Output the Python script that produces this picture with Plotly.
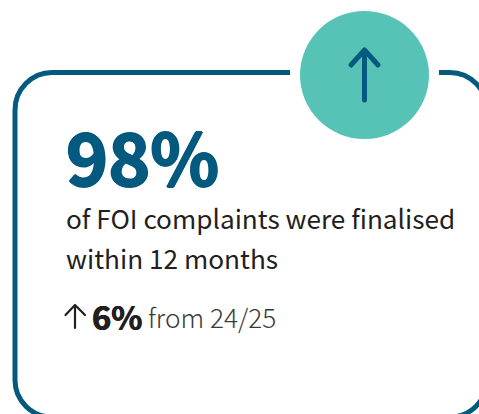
import plotly.graph_objects as go

headline = ["98%"]
body_lines = ["of FOI complaints were finalised", "within 12 months"]
change = ["6%"]
change_note = ["from 24/25"]

NAVY = "#04597f"
TEAL = "#57c3b6"
INK = "#231f20"
FONT = "Noto Sans CJK SC"

fig = go.Figure()
fig.add_trace(go.Scatter(x=[0], y=[0], mode="markers", marker=dict(opacity=0), showlegend=False, hoverinfo="skip"))

border_left = ("M 290 72.5 L 52 72.5 C 31.6 72.5 15 89.6 15 110 L 15 380 "
               "C 15 400.4 31.6 417 52 417")
border_right = ("M 439 72.5 L 450 72.5 C 470.4 72.5 487 89.6 487 110 L 487 380 "
                "C 487 400.4 470.4 417 450 417")
shapes = [
    dict(type="path", path=border_left, line=dict(color=NAVY, width=5)),
    dict(type="path", path=border_right, line=dict(color=NAVY, width=5)),
    dict(type="circle", x0=300, x1=429, y0=11, y1=139, fillcolor=TEAL, line=dict(width=0)),
    dict(type="path", path="M 364.5 100 L 364.5 50 M 351 65 L 364.5 50 L 378 65",
         line=dict(color=NAVY, width=5)),
    dict(type="path", path="M 75 328 L 75 305 M 65.5 315 L 75 305 L 85 315",
         line=dict(color=INK, width=2.2)),
]

heavy = "1px 0 0 %s, -1px 0 0 %s, 0 1px 0 %s, 0 -1px 0 %s" % (NAVY, NAVY, NAVY, NAVY)
heavy_ink = "0.4px 0 0 %s, -0.4px 0 0 %s" % (INK, INK)
annotations = [
    dict(x=66, y=154.5, text="<b>%s</b>" % headline[0], font=dict(size=71.5, color=NAVY, family=FONT, shadow=heavy)),
    dict(x=66, y=217.5, text=body_lines[0], font=dict(size=26.2, color=INK, family=FONT)),
    dict(x=66, y=258, text=body_lines[1], font=dict(size=26.2, color=INK, family=FONT)),
    dict(x=92, y=315, text="<b>%s</b>" % change[0], font=dict(size=32.5, color=INK, family=FONT, shadow=heavy_ink)),
    dict(x=148, y=317, text=change_note[0], font=dict(size=26.2, color="#3a3a3a", family=FONT, weight=300)),
]
for a in annotations:
    a.update(xref="x", yref="y", xanchor="left", yanchor="middle", showarrow=False, borderpad=0, borderwidth=0)

fig.update_layout(
    width=479, height=414, margin=dict(l=0, r=0, t=0, b=0),
    paper_bgcolor="white", plot_bgcolor="white", showlegend=False,
    xaxis=dict(range=[0, 479], visible=False, fixedrange=True),
    yaxis=dict(range=[414, 0], visible=False, fixedrange=True),
    shapes=shapes, annotations=annotations,
)
fig.write_html("out.html", config={"displayModeBar": False}, include_plotlyjs=True,
               post_script="document.body.style.margin='0';document.body.style.overflow='hidden';"
                           "document.querySelectorAll('.shapelayer path').forEach(function(p,i){if(i>=3){p.style.strokeLinecap='round';p.style.strokeLinejoin='round';}});")
